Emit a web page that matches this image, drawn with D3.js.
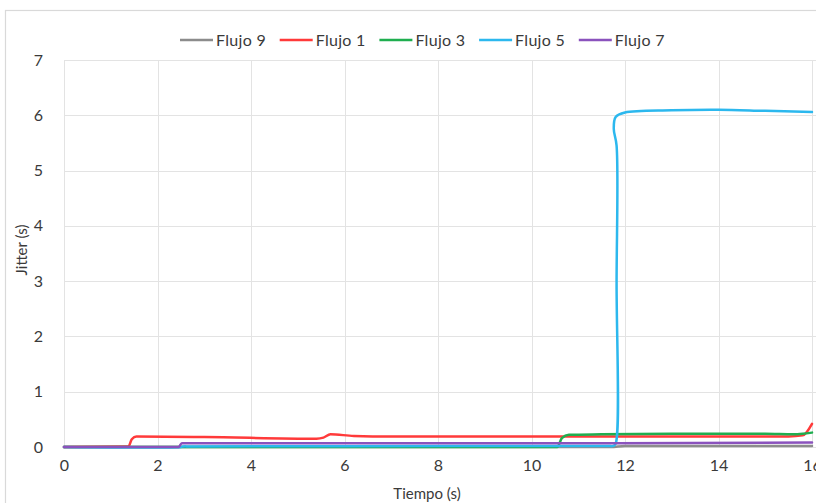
<!DOCTYPE html>
<html><head><meta charset="utf-8">
<script src="https://cdn.jsdelivr.net/npm/d3@7"></script>
<style>
body{margin:0;background:#fff;}
svg{display:block;font-family:Lato,"Open Sans",sans-serif;}
</style></head>
<body><svg id="c" width="816" height="503"></svg>
<script>
const seriesNames = ["Flujo 9","Flujo 1","Flujo 3","Flujo 5","Flujo 7"];
const seriesColors = ["#8c8c8c","#ff3a3a","#1fae4f","#2cb8ee","#8a52bd"];
const xTicks = [0,2,4,6,8,10,12,14,16];
const yTicks = [0,1,2,3,4,5,6,7];
const flujo9 = [[0,0],[11.7,0.0],[12,0.02],[16,0.02]];
const flujo1 = [[0,0],[1.38,0.01],[1.45,0.14],[1.55,0.19],[3,0.18],[5.4,0.15],[5.55,0.17],[5.7,0.23],[6.2,0.2],[7,0.19],[10,0.19],[12,0.19],[15.5,0.19],[15.8,0.21],[16,0.42]];
const flujo3 = [[0,0],[10.55,0.0],[10.65,0.16],[10.8,0.22],[11.5,0.23],[13,0.24],[15,0.24],[15.6,0.23],[15.8,0.24],[16,0.26]];
const flujo5 = [[0,0],[2.5,0],[2.55,0.01],[2.7,0.01],[6,0.015],[11.6,0.02],[11.75,0.02],[11.8,0.06],[11.82,3],[11.82,5.45],[11.76,5.75],[11.8,5.97],[12,6.05],[13,6.09],[14,6.1],[15,6.08],[16,6.06]];
const flujo7 = [[0,0],[2.45,0],[2.52,0.07],[6,0.07],[11.8,0.07],[16,0.08]];
const seriesData = [flujo9, flujo1, flujo3, flujo5, flujo7];

const svg = d3.select("#c");
// frame
svg.append("rect").attr("x",5.5).attr("y",10.5).attr("width",830).attr("height",520)
  .attr("fill","#fff").attr("stroke","#d9d9d9").attr("stroke-width",1.2);

const x = d3.scaleLinear().domain([0,16]).range([64,812]);
const y = d3.scaleLinear().domain([0,7]).range([447,60]);

// grid
svg.append("g").selectAll("line").data(yTicks).join("line")
  .attr("x1",x(0)).attr("x2",x(16)+5).attr("y1",d=>Math.round(y(d))+0.5).attr("y2",d=>Math.round(y(d))+0.5)
  .attr("stroke","#e3e3e3").attr("stroke-width",1);
svg.append("g").selectAll("line").data(xTicks).join("line")
  .attr("y1",y(0)).attr("y2",y(7)).attr("x1",d=>Math.round(x(d))+0.5).attr("x2",d=>Math.round(x(d))+0.5)
  .attr("stroke","#e3e3e3").attr("stroke-width",1);

// axes (labels only)
const xAxis = d3.axisBottom(x).tickValues(xTicks).tickFormat(d3.format("d")).tickSize(0).tickPadding(13);
const gx = svg.append("g").attr("transform",`translate(0,${y(0)})`).call(xAxis);
gx.select(".domain").remove();
gx.selectAll("text").attr("font-size",16).attr("fill","#3a3a3a").attr("font-family","Lato,sans-serif");
const yAxis = d3.axisLeft(y).tickValues(yTicks).tickFormat(d3.format("d")).tickSize(0).tickPadding(21);
const gy = svg.append("g").attr("transform",`translate(${x(0)},0)`).call(yAxis);
gy.select(".domain").remove();
gy.selectAll("text").attr("font-size",16).attr("fill","#3a3a3a").attr("font-family","Lato,sans-serif");

// lines
const smooth = d3.line().x(d=>x(d[0])).y(d=>y(d[1])).curve(d3.curveMonotoneX);
const curl = d3.line().x(d=>x(d[0])).y(d=>y(d[1])).curve(d3.curveCatmullRom.alpha(0.5));
svg.append("g").selectAll("path").data(seriesData).join("path")
  .attr("d",(d,i)=> i===3 ? curl(d) : smooth(d)).attr("fill","none")
  .attr("stroke",(d,i)=>seriesColors[i]).attr("stroke-width",2.5)
  .attr("stroke-linejoin","round").attr("stroke-linecap","round");

// axis titles
svg.append("text").attr("x",427).attr("y",499).attr("text-anchor","middle")
  .attr("font-size",15).attr("fill","#3a3a3a").text("Tiempo (s)");
svg.append("text").attr("transform","translate(27,250) rotate(-90)").attr("text-anchor","middle")
  .attr("font-size",15).attr("fill","#3a3a3a").text("Jitter (s)");

// legend
const lg = svg.append("g").selectAll("g").data(seriesNames).join("g")
  .attr("transform",(d,i)=>`translate(${180 + i*99.7},40)`);
lg.append("line").attr("x1",0).attr("x2",33).attr("y1",0).attr("y2",0)
  .attr("stroke",(d,i)=>seriesColors[i]).attr("stroke-width",2.5);
lg.append("text").attr("x",36).attr("y",5.5).attr("font-size",16).attr("fill","#3a3a3a")
  .attr("letter-spacing","0.3px").text(d=>d);
</script></body></html>
